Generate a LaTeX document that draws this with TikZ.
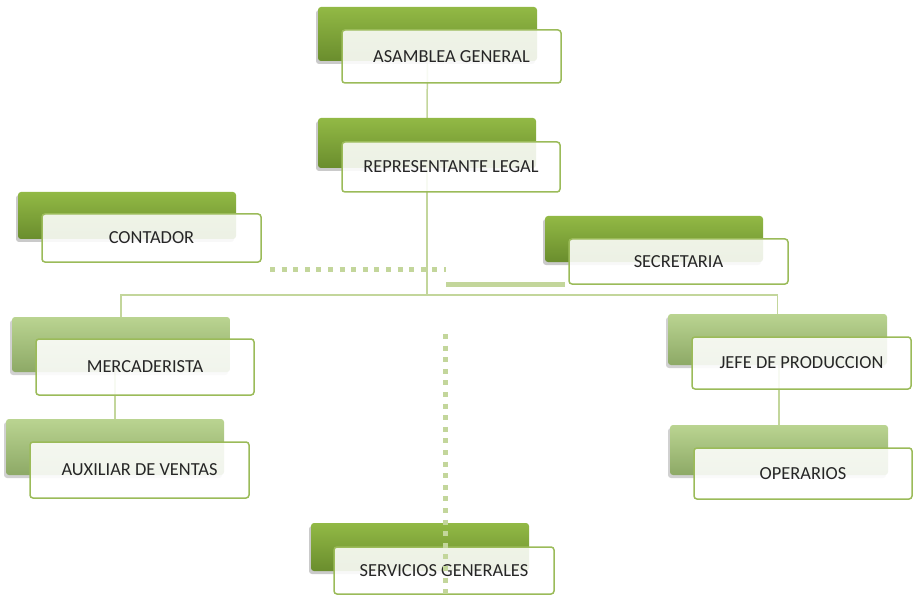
\documentclass[tikz,border=0pt]{standalone}
\usepackage{fontspec}
\setmainfont{Carlito}
\usetikzlibrary{shadows}
\definecolor{dkTop}{HTML}{92B945}
\definecolor{dkBot}{HTML}{6A8D2D}
\definecolor{ltTop}{HTML}{BAD491}
\definecolor{ltBot}{HTML}{8DA966}
\definecolor{frameG}{HTML}{9BBB59}
\definecolor{connG}{HTML}{C3D69B}
\tikzset{
  x=1pt,y=-1pt,
  backdark/.style={rectangle, rounded corners=3pt, top color=dkTop, bottom color=dkBot, draw=none,
    drop shadow={shadow xshift=-2pt, shadow yshift=-3pt, opacity=0.35, fill=black!60}},
  backlight/.style={rectangle, rounded corners=3pt, top color=ltTop, bottom color=ltBot, draw=none,
    drop shadow={shadow xshift=-2pt, shadow yshift=-3pt, opacity=0.3, fill=black!60}},
  frontbox/.style={rectangle, rounded corners=3pt, fill=white, fill opacity=0.88, text opacity=1,
    draw=frameG, line width=1.5pt, font=\fontsize{18.4}{22}\selectfont, text=black!85, inner sep=0pt},
  conn/.style={draw=connG, line width=1.5pt},
  thickdot/.style={draw=connG, line width=5pt, dash pattern=on 5pt off 6.6pt},
  thicksolid/.style={draw=connG, line width=5pt}
}
\begin{document}
\begin{tikzpicture}
\useasboundingbox (0,0) rectangle (914,599);
% back boxes (positions only, for connectors)
\coordinate (agBc) at (427.5,34);
\coordinate (rlBc) at (427,143);
\coordinate (merBc) at (121,344.5);
\coordinate (auxBc) at (115,447);
\coordinate (jefBc) at (777.5,339.5);
\coordinate (opeBc) at (779,450);
\coordinate (bus) at (427,295);
% connectors
\draw[conn] (agBc) -- (rlBc);
\draw[conn] (rlBc) -- (bus) -| (merBc);
\draw[conn] (bus) -| (jefBc);
\draw[conn] (auxBc) -- (auxBc |- merBc);
\draw[conn] (opeBc) -- (opeBc |- jefBc);
% boxes
\node[backdark, minimum width=219, minimum height=54] (agB) at (agBc) {};
\node[frontbox, minimum width=219, minimum height=53] (agF) at (451.5,56.5) {ASAMBLEA GENERAL};
\node[backdark, minimum width=218, minimum height=50] (rlB) at (rlBc) {};
\node[frontbox, minimum width=218, minimum height=50] (rlF) at (451,167) {REPRESENTANTE LEGAL};
\node[backdark, minimum width=218, minimum height=47] (coB) at (127,215.5) {};
\node[frontbox, minimum width=219, minimum height=48] (coF) at (151.5,238) {CONTADOR};
\node[backdark, minimum width=218, minimum height=46] (seB) at (654,239) {};
\node[frontbox, minimum width=219, minimum height=45] (seF) at (678.5,261.5) {SECRETARIA};
\node[backlight, minimum width=218, minimum height=55] (merB) at (merBc) {};
\node[frontbox, minimum width=218, minimum height=56] (merF) at (145,367) {MERCADERISTA};
\node[backlight, minimum width=218, minimum height=56] (auxB) at (auxBc) {};
\node[frontbox, minimum width=219, minimum height=56] (auxF) at (139.5,470) {AUXILIAR DE VENTAS};
\node[backlight, minimum width=219, minimum height=51] (jefB) at (jefBc) {};
\node[frontbox, minimum width=219, minimum height=52] (jefF) at (801.5,363) {JEFE DE PRODUCCION};
\node[backlight, minimum width=218, minimum height=50] (opeB) at (opeBc) {};
\node[frontbox, minimum width=218, minimum height=51] (opeF) at (803,473.5) {OPERARIOS};
\node[backdark, minimum width=218, minimum height=48] (svB) at (420,547) {};
\node[frontbox, minimum width=220, minimum height=47] (svF) at (444,570.5) {SERVICIOS GENERALES};
% free lines
\coordinate (dh1) at (270,269);
\coordinate (dh2) at (446,269);
\coordinate (sh1) at (446,284);
\coordinate (sh2) at (565,284);
\coordinate (dv1) at (445.5,334);
\coordinate (dv2) at (445.5,599);
\draw[thickdot] (dh1) -- (dh2);
\draw[thicksolid] (sh1) -- (sh2);
\draw[thickdot] (dv1) -- (dv2);
\end{tikzpicture}
\end{document}
